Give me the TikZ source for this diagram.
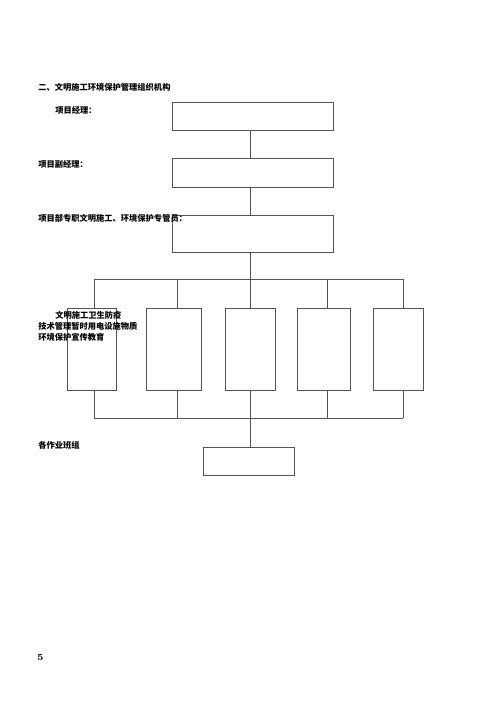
\documentclass[tikz,border=0pt]{standalone}
\usepackage{fontspec}
\usepackage{tikz}
\newfontfamily\cjk{Noto Sans CJK SC}
\definecolor{linegray}{RGB}{85, 85, 85}

\tikzset{
  orgbox/.style={draw=linegray, line width=0.6pt, inner sep=0pt},
  link/.style={draw=linegray, line width=0.6pt},
  lbl/.style={anchor=west, inner sep=0pt, font=\cjk\bfseries\fontsize{6.2}{7.4}\selectfont},
}

\begin{document}
\begin{tikzpicture}[x=0.75pt,y=0.75pt,yscale=-1,xscale=1]
\path (0,0) rectangle (500,707); %page 500 x 707

%Shape: Rectangle [top chain]
\node [orgbox, minimum width=120.75pt, minimum height=21pt] (mgr) at (252.5,116) {};
\node [orgbox, minimum width=120.75pt, minimum height=21.75pt] (dep) at (252.5,172.5) {};
\node [orgbox, minimum width=120.75pt, minimum height=27.75pt] (off) at (252.5,233.5) {};
%Shape: Rectangle [five duties]
\node [orgbox, minimum width=36.75pt, minimum height=61.5pt] (d1) at (91.5,349) {};
\node [orgbox, minimum width=41.25pt, minimum height=61.5pt] (d2) at (173.5,349) {};
\node [orgbox, minimum width=37.5pt, minimum height=61.5pt] (d3) at (250,349) {};
\node [orgbox, minimum width=39.75pt, minimum height=61.5pt] (d4) at (323.5,349) {};
\node [orgbox, minimum width=37.5pt, minimum height=61.5pt] (d5) at (398,349) {};
%Shape: Rectangle [teams]
\node [orgbox, minimum width=68.25pt, minimum height=21pt] (team) at (248.5,461) {};

%bus coordinates
\coordinate (spine) at (250,0);
\coordinate (topbus) at (0,279.3);
\coordinate (botbus) at (0,418.3);
\coordinate (c1) at (94,0);
\coordinate (c2) at (177,0);
\coordinate (c4) at (327,0);
\coordinate (c5) at (403,0);

%Straight Lines
\draw [link] (mgr.south -| spine) -- (dep.north -| spine);
\draw [link] (dep.south -| spine) -- (off.north -| spine);
\draw [link] (off.south -| spine) -- (d3.north);
\draw [link] (topbus -| c1) -- (topbus -| c5);
\draw [link] (botbus -| c1) -- (botbus -| c5);
\draw [link] (topbus -| c1) -- (d1.north -| c1);
\draw [link] (topbus -| c2) -- (d2.north -| c2);
\draw [link] (topbus -| c4) -- (d4.north -| c4);
\draw [link] (topbus -| c5) -- (d5.north -| c5);
\draw [link] (d1.south -| c1) -- (botbus -| c1);
\draw [link] (d2.south -| c2) -- (botbus -| c2);
\draw [link] (d4.south -| c4) -- (botbus -| c4);
\draw [link] (d5.south -| c5) -- (botbus -| c5);
\draw [link] (d3.south) -- (team.north -| spine);

% Text Node
\node [lbl] (title) at (38,87) {二、文明施工环境保护管理组织机构};
% Text Node
\node [lbl] (tmgr) at (55,110) {项目经理：};
% Text Node
\node [lbl] (tdep) at (38,164) {项目副经理：};
% Text Node
\node [lbl] (toff) at (38,218) {项目部专职文明施工、环境保护专管员：};
% Text Node
\node [lbl] (tduty1) at (55,315) {文明施工卫生防疫};
\node [lbl] (tduty2) at (38,326.5) {技术管理暂时用电设施物质};
\node [lbl] (tduty3) at (38,337) {环境保护宣传教育};
% Text Node
\node [lbl] (tteam) at (38,445.5) {各作业班组};
% Text Node
\node [anchor=west, inner sep=0pt, font=\bfseries\fontsize{7}{8}\selectfont] (pg) at (37,657) {5};

\end{tikzpicture}
\end{document}
